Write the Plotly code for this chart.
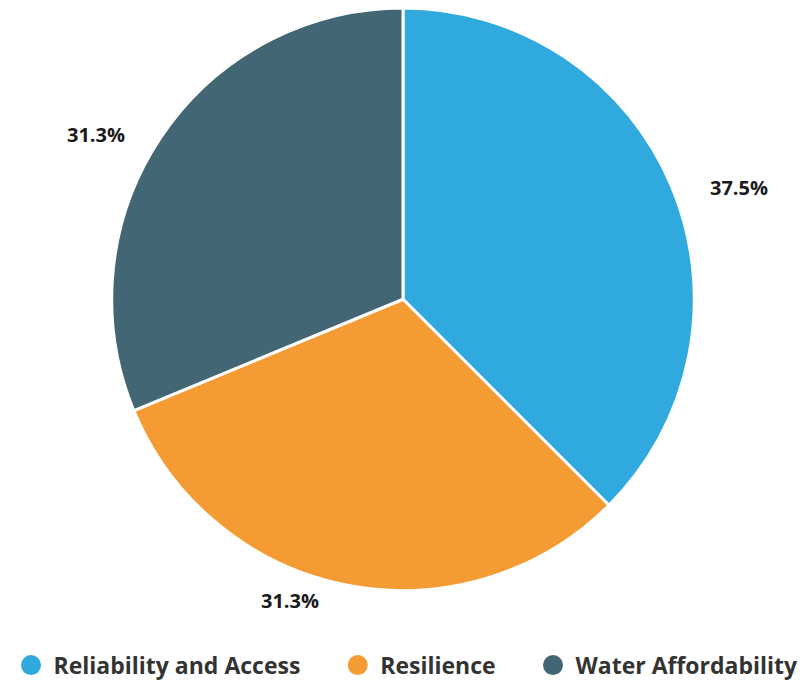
import math
import plotly.graph_objects as go

categories = ["Reliability and Access", "Resilience", "Water Affordability"]
values = [6, 5, 5]
pct_labels = ["37.5%", "31.3%", "31.3%"]
colors = ["#2FA9DE", "#F59B33", "#426673"]

W, H = 812, 687
cx, cy, R = 403, 301, 293

fig = go.Figure()
fig.add_trace(go.Pie(
    labels=categories, values=values, sort=False, direction="clockwise", rotation=0,
    marker=dict(colors=colors, line=dict(color="white", width=3)),
    textinfo="none", hoverinfo="label+percent", showlegend=False,
    domain=dict(x=[(cx - R) / W, (cx + R) / W], y=[1 - (cy + R) / H, 1 - (cy - R) / H]),
))

# outside labels computed from slice mid-angles
total = sum(values)
cum = 0
for v, t in zip(values, pct_labels):
    mid = (cum + v / 2) / total * 2 * math.pi
    cum += v
    rl = R + 12
    px = cx + rl * math.sin(mid)
    py = cy - rl * math.cos(mid)
    right = math.sin(mid) > 0
    fig.add_annotation(
        x=px / W, y=1 - py / H, xref="paper", yref="paper", text=t, showarrow=False,
        xanchor="left" if right else "right", yanchor="middle",
        xshift=23 if right else -22,
        yshift=-4,
        font=dict(family="Open Sans", size=20, color="#1a1a1a", weight="bold"),
    )

pad = "\u00a0" * 5
for i, (c, col) in enumerate(zip(categories, colors)):
    fig.add_trace(go.Scatter(
        x=[None], y=[None], mode="markers",
        name=c + (pad if i < len(categories) - 1 else ""),
        marker=dict(symbol="circle", size=16, color=col, line=dict(color=col, width=4)),
    ))

fig.update_layout(
    width=W, height=H, margin=dict(l=0, r=0, t=0, b=0),
    paper_bgcolor="white", plot_bgcolor="white",
    xaxis=dict(visible=False), yaxis=dict(visible=False),
    showlegend=True,
    legend=dict(orientation="h", x=0.5, xanchor="center", y=1 - 669 / H, yanchor="middle",
                font=dict(family="Open Sans", size=23, color="#333333", weight="bold"),
                itemwidth=35, tracegroupgap=0),
)

fig.write_html("out.html")
